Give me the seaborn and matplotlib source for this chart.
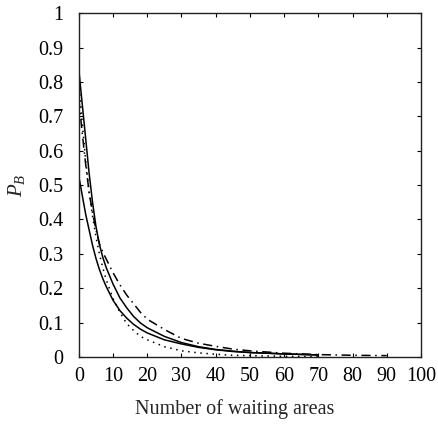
import numpy as np
import pandas as pd
import matplotlib
matplotlib.use("Agg")
import matplotlib.pyplot as plt
import seaborn as sns

# Data
x_solid = [0, 1, 2, 3, 4, 5, 6, 7, 8, 10, 12, 14, 16, 18, 20, 25, 30, 35, 40, 45, 50, 60, 70]
solid_a = [0.835, 0.735, 0.635, 0.535, 0.45, 0.38, 0.328, 0.29, 0.26, 0.212, 0.172, 0.143, 0.118,
           0.099, 0.085, 0.060, 0.042, 0.030, 0.022, 0.017, 0.013, 0.009, 0.006]
solid_b = [0.525, 0.47, 0.415, 0.37, 0.325, 0.287, 0.255, 0.228, 0.205, 0.165, 0.135, 0.113, 0.095,
           0.081, 0.070, 0.050, 0.038, 0.028, 0.021, 0.016, 0.013, 0.009, 0.006]
x_dashdot = [0, 1, 2, 3, 4, 5, 6, 7, 8, 10, 12, 14, 16, 18, 20, 25, 30, 35, 40, 45, 50, 60, 70, 80, 90]
dashdot = [0.75, 0.65, 0.56, 0.48, 0.42, 0.37, 0.33, 0.305, 0.285, 0.245, 0.21, 0.18, 0.155, 0.13,
           0.11, 0.08, 0.054, 0.040, 0.031, 0.023, 0.018, 0.011, 0.007, 0.005, 0.004]
x_dotted = [0, 1, 2, 3, 4, 5, 6, 7, 8, 10, 12, 14, 16, 18, 20, 25, 30, 35, 40, 45, 50, 60, 70]
dotted = [0.80, 0.68, 0.57, 0.48, 0.41, 0.35, 0.30, 0.26, 0.225, 0.17, 0.13, 0.097, 0.077, 0.06,
          0.05, 0.03, 0.018, 0.012, 0.008, 0.005, 0.004, 0.002, 0.001]

x_ticks = list(range(0, 101, 10))
y_ticks = [0, 0.1, 0.2, 0.3, 0.4, 0.5, 0.6, 0.7, 0.8, 0.9, 1]
y_labels = ["0", "0.1", "0.2", "0.3", "0.4", "0.5", "0.6", "0.7", "0.8", "0.9", "1"]

df = pd.concat([
    pd.DataFrame({"x": x_solid, "y": solid_a, "series": "A"}),
    pd.DataFrame({"x": x_solid, "y": solid_b, "series": "B"}),
    pd.DataFrame({"x": x_dashdot, "y": dashdot, "series": "C"}),
    pd.DataFrame({"x": x_dotted, "y": dotted, "series": "D"}),
], ignore_index=True)

sns.set_style("ticks")
plt.rcParams["font.family"] = ["Liberation Serif", "DejaVu Serif"]
plt.rcParams["mathtext.fontset"] = "custom"
plt.rcParams["mathtext.it"] = "Liberation Serif:italic"
plt.rcParams["mathtext.rm"] = "Liberation Serif"
plt.rcParams["xtick.direction"] = "in"
plt.rcParams["ytick.direction"] = "in"

fig = plt.figure(figsize=(4.38, 4.25), dpi=100)
ax = fig.add_axes([0.180, 0.160, 0.781, 0.809])

sns.lineplot(data=df, x="x", y="y", hue="series", style="series",
             palette={"A": "black", "B": "black", "C": "black", "D": "black"},
             dashes={"A": "", "B": "", "C": (6, 3, 1, 3), "D": (1, 3)},
             linewidth=1.1, legend=False, ax=ax, sort=False)

ax.set_xlim(0, 100)
ax.set_ylim(0, 1)
ax.set_xticks(x_ticks)
ax.set_yticks(y_ticks)
ax.set_yticklabels(y_labels)
ax.tick_params(axis="both", which="both", direction="in", top=True, right=True,
               length=3, width=0.8, labelsize=14.5, colors="black")
ax.tick_params(axis="x", pad=7)
ax.tick_params(axis="y", pad=11)
for s in ax.spines.values():
    s.set_visible(True)
    s.set_color("#222222")
    s.set_linewidth(1.0)
ax.set_xlabel("Number of waiting areas", fontsize=14.5)
ax.xaxis.set_label_coords(0.455, -0.122)
ax.set_ylabel("$P_B$", fontsize=15, labelpad=8)

fig.savefig("out.png", dpi=100)
